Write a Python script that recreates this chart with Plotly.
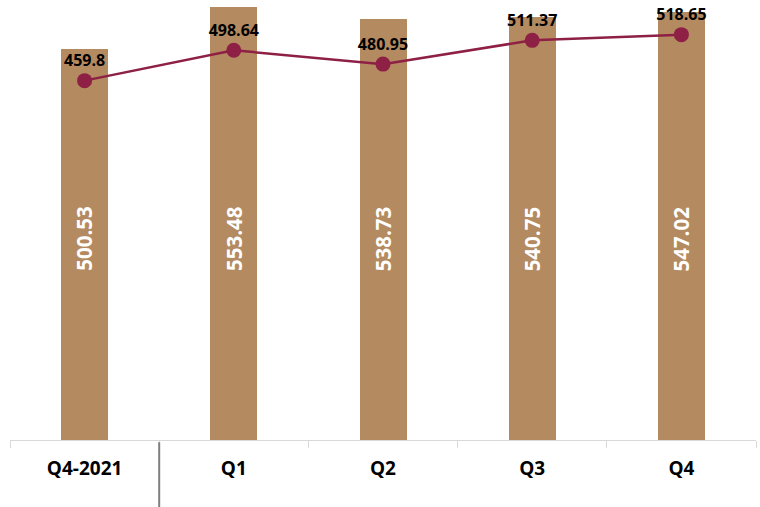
import plotly.graph_objects as go

categories = ["Q4-2021", "Q1", "Q2", "Q3", "Q4"]
bar_values = [500.53, 553.48, 538.73, 540.75, 547.02]
line_values = [459.8, 498.64, 480.95, 511.37, 518.65]
line_labels = ["459.8", "498.64", "480.95", "511.37", "518.65"]
bar_labels = ["500.53", "553.48", "538.73", "540.75", "547.02"]

BAR_COLOR = "#B48A60"
LINE_COLOR = "#8E1F45"
FONT = "Open Sans"
BAR_LABEL_Y = 257

fig = go.Figure()
fig.add_trace(go.Bar(
    x=categories, y=bar_values, width=0.315,
    marker=dict(color=BAR_COLOR, line=dict(width=0)),
    hoverinfo="skip", showlegend=False,
))
fig.add_trace(go.Scatter(
    x=categories, y=line_values, mode="lines+markers+text",
    line=dict(color=LINE_COLOR, width=2.5),
    marker=dict(color=LINE_COLOR, size=15),
    text=line_labels, textposition="top center",
    textfont=dict(family=FONT, size=16, color="#000000", weight=700),
    showlegend=False,
))

for c, t in zip(categories, bar_labels):
    fig.add_annotation(
        x=c, y=BAR_LABEL_Y, text=t, textangle=-90, showarrow=False,
        font=dict(family=FONT, size=20.5, color="#FFFFFF", weight=700),
    )

fig.add_shape(
    type="line", xref="x", yref="paper", x0=0.5, x1=0.5, y0=-0.005, y1=-0.155,
    line=dict(color="#7F7F7F", width=2),
)

fig.update_layout(
    width=760, height=507,
    margin=dict(l=10, r=4, t=0, b=67),
    plot_bgcolor="white", paper_bgcolor="white",
    bargap=0,
    xaxis=dict(
        showline=True, linecolor="#D9D9D9", linewidth=1,
        ticks="outside", tickson="boundaries", ticklen=7, tickcolor="#D9D9D9",
        showgrid=False, ticklabelstandoff=11, automargin=False,
        tickfont=dict(family=FONT, size=19, color="#000000", weight=700),
    ),
    yaxis=dict(visible=False, range=[0, 563], showgrid=False, automargin=False),
)

fig.write_html(
    "out.html",
    config={"displayModeBar": False},
    post_script="document.body.style.margin='0';document.body.style.padding='0';document.body.style.overflow='hidden';",
)
